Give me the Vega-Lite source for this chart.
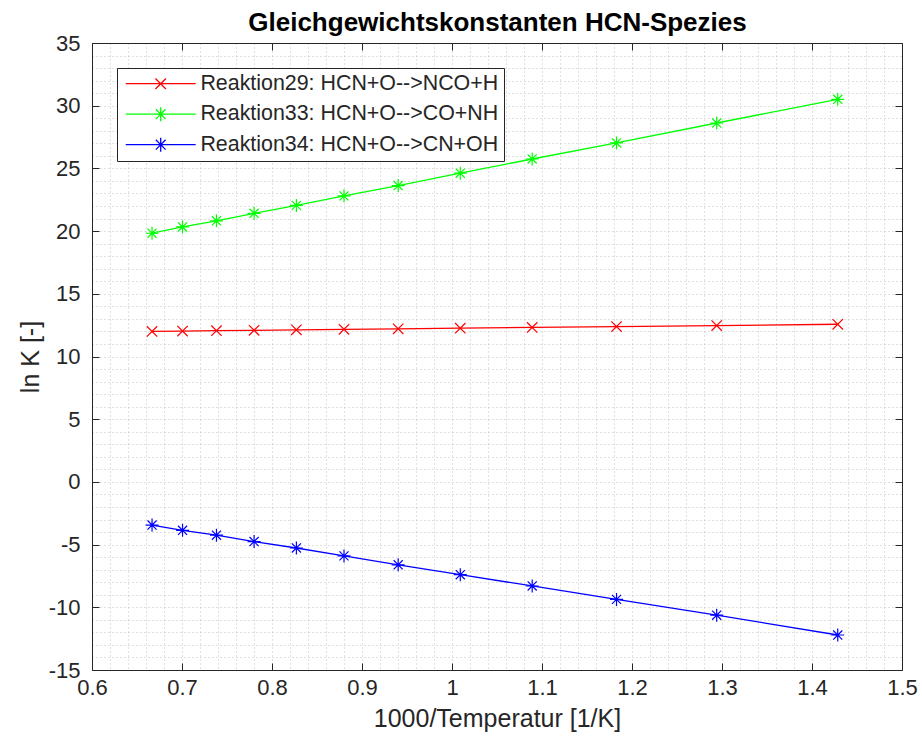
{
  "$schema": "https://vega.github.io/schema/vega-lite/v6.json",
  "width": 810,
  "height": 627,
  "autosize": {"type": "none"},
  "padding": {"left": 92, "top": 43, "right": 20, "bottom": 74},
  "background": "white",
  "config": {"view": {"stroke": null}, "font": "Liberation Sans"},
  "data": {"values": [
    {"x": 0.6667, "y": 12.00, "series": "Reaktion29: HCN+O-->NCO+H"},
    {"x": 0.7006, "y": 12.03, "series": "Reaktion29: HCN+O-->NCO+H"},
    {"x": 0.7383, "y": 12.06, "series": "Reaktion29: HCN+O-->NCO+H"},
    {"x": 0.7801, "y": 12.09, "series": "Reaktion29: HCN+O-->NCO+H"},
    {"x": 0.8271, "y": 12.13, "series": "Reaktion29: HCN+O-->NCO+H"},
    {"x": 0.8800, "y": 12.17, "series": "Reaktion29: HCN+O-->NCO+H"},
    {"x": 0.9402, "y": 12.21, "series": "Reaktion29: HCN+O-->NCO+H"},
    {"x": 1.0092, "y": 12.26, "series": "Reaktion29: HCN+O-->NCO+H"},
    {"x": 1.0891, "y": 12.32, "series": "Reaktion29: HCN+O-->NCO+H"},
    {"x": 1.1828, "y": 12.39, "series": "Reaktion29: HCN+O-->NCO+H"},
    {"x": 1.2941, "y": 12.47, "series": "Reaktion29: HCN+O-->NCO+H"},
    {"x": 1.4286, "y": 12.57, "series": "Reaktion29: HCN+O-->NCO+H"},
    {"x": 0.6667, "y": 19.83, "series": "Reaktion33: HCN+O-->CO+NH"},
    {"x": 0.7006, "y": 20.33, "series": "Reaktion33: HCN+O-->CO+NH"},
    {"x": 0.7383, "y": 20.82, "series": "Reaktion33: HCN+O-->CO+NH"},
    {"x": 0.7801, "y": 21.42, "series": "Reaktion33: HCN+O-->CO+NH"},
    {"x": 0.8271, "y": 22.05, "series": "Reaktion33: HCN+O-->CO+NH"},
    {"x": 0.8800, "y": 22.81, "series": "Reaktion33: HCN+O-->CO+NH"},
    {"x": 0.9402, "y": 23.63, "series": "Reaktion33: HCN+O-->CO+NH"},
    {"x": 1.0092, "y": 24.62, "series": "Reaktion33: HCN+O-->CO+NH"},
    {"x": 1.0891, "y": 25.75, "series": "Reaktion33: HCN+O-->CO+NH"},
    {"x": 1.1828, "y": 27.03, "series": "Reaktion33: HCN+O-->CO+NH"},
    {"x": 1.2941, "y": 28.62, "series": "Reaktion33: HCN+O-->CO+NH"},
    {"x": 1.4286, "y": 30.51, "series": "Reaktion33: HCN+O-->CO+NH"},
    {"x": 0.6667, "y": -3.44, "series": "Reaktion34: HCN+O-->CN+OH"},
    {"x": 0.7006, "y": -3.86, "series": "Reaktion34: HCN+O-->CN+OH"},
    {"x": 0.7383, "y": -4.25, "series": "Reaktion34: HCN+O-->CN+OH"},
    {"x": 0.7801, "y": -4.76, "series": "Reaktion34: HCN+O-->CN+OH"},
    {"x": 0.8271, "y": -5.27, "series": "Reaktion34: HCN+O-->CN+OH"},
    {"x": 0.8800, "y": -5.90, "series": "Reaktion34: HCN+O-->CN+OH"},
    {"x": 0.9402, "y": -6.61, "series": "Reaktion34: HCN+O-->CN+OH"},
    {"x": 1.0092, "y": -7.40, "series": "Reaktion34: HCN+O-->CN+OH"},
    {"x": 1.0891, "y": -8.30, "series": "Reaktion34: HCN+O-->CN+OH"},
    {"x": 1.1828, "y": -9.37, "series": "Reaktion34: HCN+O-->CN+OH"},
    {"x": 1.2941, "y": -10.63, "series": "Reaktion34: HCN+O-->CN+OH"},
    {"x": 1.4286, "y": -12.21, "series": "Reaktion34: HCN+O-->CN+OH"}
  ]},
  "layer": [
    {
      "mark": {"type": "point", "opacity": 0},
      "encoding": {
        "x": {"field": "x", "type": "quantitative", "scale": {"domain": [0.6, 1.5], "nice": false, "zero": false},
          "axis": {"orient": "bottom", "values": [0.62,0.64,0.66,0.68,0.70,0.72,0.74,0.76,0.78,0.80,0.82,0.84,0.86,0.88,0.90,0.92,0.94,0.96,0.98,1.00,1.02,1.04,1.06,1.08,1.10,1.12,1.14,1.16,1.18,1.20,1.22,1.24,1.26,1.28,1.30,1.32,1.34,1.36,1.38,1.40,1.42,1.44,1.46,1.48],
            "grid": true, "gridDash": [1, 3], "gridColor": "#c0c0c0", "gridWidth": 1, "ticks": false, "labels": false, "domain": false, "title": null}},
        "y": {"field": "y", "type": "quantitative", "scale": {"domain": [-15, 35], "nice": false, "zero": false},
          "axis": {"orient": "left", "values": [-14,-13,-12,-11,-10,-9,-8,-7,-6,-5,-4,-3,-2,-1,0,1,2,3,4,5,6,7,8,9,10,11,12,13,14,15,16,17,18,19,20,21,22,23,24,25,26,27,28,29,30,31,32,33,34],
            "grid": true, "gridDash": [1, 3], "gridColor": "#c0c0c0", "gridWidth": 1, "ticks": false, "labels": false, "domain": false, "title": null}}
      }
    },
    {
      "mark": {"type": "line", "strokeWidth": 1.3},
      "encoding": {
        "x": {"field": "x", "type": "quantitative", "scale": {"domain": [0.6, 1.5], "nice": false, "zero": false},
          "axis": {"orient": "bottom", "values": [0.6,0.7,0.8,0.9,1.0,1.1,1.2,1.3,1.4,1.5], "format": "~g", "grid": false,
            "ticks": true, "tickSize": -7, "tickColor": "#262626", "tickWidth": 1, "domain": true, "domainColor": "#262626", "domainWidth": 1,
            "labelFont": "Liberation Sans", "labelFontSize": 22, "labelColor": "#262626", "labelPadding": 14, "labelFlush": false, "labelOverlap": false,
            "title": "1000/Temperatur [1/K]", "titleFont": "Liberation Sans", "titleFontSize": 25, "titleFontWeight": "normal", "titleColor": "#262626",
            "titleX": 405, "titleY": 48, "titleBaseline": "middle", "titleAlign": "center"}},
        "y": {"field": "y", "type": "quantitative", "scale": {"domain": [-15, 35], "nice": false, "zero": false},
          "axis": {"orient": "left", "values": [-15,-10,-5,0,5,10,15,20,25,30,35], "labelExpr": "replace(datum.label, '\u2212', '-')", "grid": false,
            "ticks": true, "tickSize": -7, "tickColor": "#262626", "tickWidth": 1, "domain": true, "domainColor": "#262626", "domainWidth": 1,
            "labelFont": "Liberation Sans", "labelFontSize": 22, "labelColor": "#262626", "labelPadding": 19, "labelFlush": false, "labelOverlap": false,
            "title": "ln K [-]", "titleFont": "Liberation Sans", "titleFontSize": 25, "titleFontWeight": "normal", "titleColor": "#262626",
            "titleX": -62, "titleY": 313.5, "titleBaseline": "middle", "titleAlign": "center", "titleAngle": -90}},
        "color": {"field": "series", "type": "nominal",
          "scale": {"domain": ["Reaktion29: HCN+O-->NCO+H", "Reaktion33: HCN+O-->CO+NH", "Reaktion34: HCN+O-->CN+OH"], "range": ["#ff0000", "#00ff00", "#0000ff"]},
          "legend": {"orient": "none", "legendX": 25, "legendY": 25, "title": null, "strokeColor": "#262626", "fillColor": "white", "padding": 5,
            "labelFont": "Liberation Sans", "labelFontSize": 21.4, "labelColor": "#262626", "labelLimit": 600, "labelOffset": 57,
            "symbolStrokeWidth": 1.3, "symbolSize": 196, "symbolType": "stroke", "rowPadding": 7.5, "cornerRadius": 0,
            "encode": {"symbols": {"update": {"shape": {"signal": "datum.value === 'Reaktion29: HCN+O-->NCO+H' ? 'M-1,0H9M3.25,-0.75L4.75,0.75M3.25,0.75L4.75,-0.75' : 'M-1,0H9M4,-1V1M3.3,-0.7L4.7,0.7M3.3,0.7L4.7,-0.7'"}, "strokeWidth": {"value": 1.3}, "opacity": {"value": 1}}}}}}
      }
    },
    {
      "mark": {"type": "point", "filled": false, "strokeWidth": 1.2, "opacity": 1, "size": 169},
      "encoding": {
        "x": {"field": "x", "type": "quantitative", "scale": {"domain": [0.6, 1.5], "nice": false, "zero": false},
          "axis": {"orient": "top", "values": [0.6,0.7,0.8,0.9,1.0,1.1,1.2,1.3,1.4,1.5], "grid": false, "labels": false,
            "ticks": true, "tickSize": -7, "tickColor": "#262626", "tickWidth": 1, "domain": true, "domainColor": "#262626", "domainWidth": 1,
            "title": "Gleichgewichtskonstanten HCN-Spezies", "titleFont": "Liberation Sans", "titleFontSize": 26, "titleFontWeight": "bold", "titleColor": "#000000",
            "titleX": 405, "titleY": -21, "titleBaseline": "middle", "titleAlign": "center"}},
        "y": {"field": "y", "type": "quantitative", "scale": {"domain": [-15, 35], "nice": false, "zero": false},
          "axis": {"orient": "right", "values": [-15,-10,-5,0,5,10,15,20,25,30,35], "grid": false, "labels": false,
            "ticks": true, "tickSize": -7, "tickColor": "#262626", "tickWidth": 1, "domain": true, "domainColor": "#262626", "domainWidth": 1, "title": null}},
        "color": {"field": "series", "type": "nominal", "legend": null},
        "shape": {"field": "series", "type": "nominal", "legend": null,
          "scale": {"domain": ["Reaktion29: HCN+O-->NCO+H", "Reaktion33: HCN+O-->CO+NH", "Reaktion34: HCN+O-->CN+OH"],
            "range": ["M-0.8,-0.8L0.8,0.8M-0.8,0.8L0.8,-0.8", "M-1,0H1M0,-1V1M-0.7,-0.7L0.7,0.7M-0.7,0.7L0.7,-0.7", "M-1,0H1M0,-1V1M-0.7,-0.7L0.7,0.7M-0.7,0.7L0.7,-0.7"]}}
      }
    }
  ],
  "resolve": {"axis": {"x": "independent", "y": "independent"}, "legend": {"color": "independent", "shape": "independent"}}
}
